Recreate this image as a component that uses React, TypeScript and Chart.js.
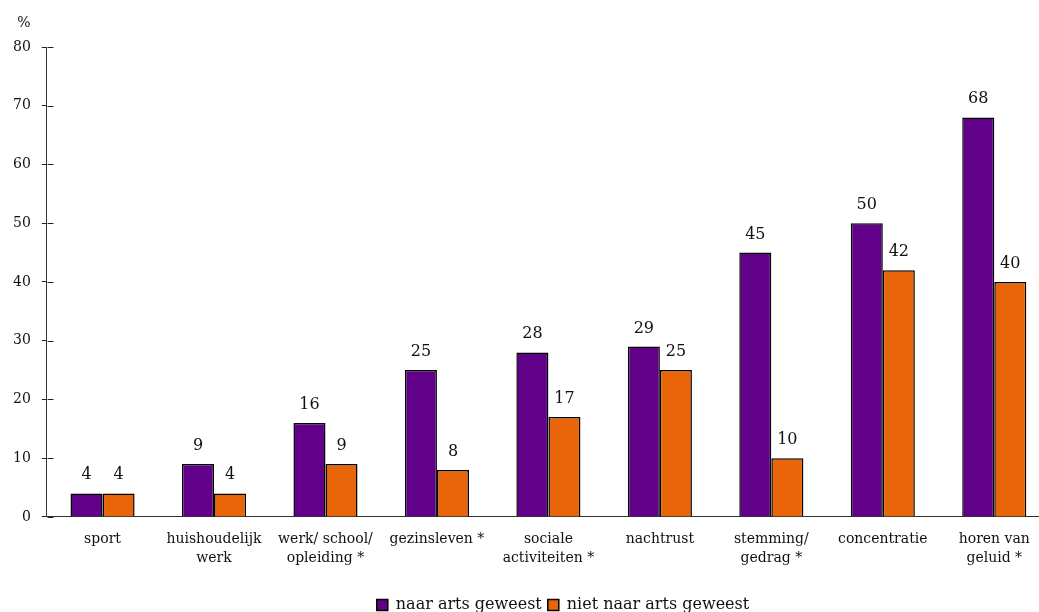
import React, { useEffect, useRef } from 'react';
import { Chart, registerables } from 'chart.js';

Chart.register(...registerables);

const categories: (string | string[])[] = [
  'sport',
  ['huishoudelijk', 'werk'],
  ['werk/ school/', 'opleiding *'],
  'gezinsleven *',
  ['sociale', 'activiteiten *'],
  'nachtrust',
  ['stemming/', 'gedrag *'],
  'concentratie',
  ['horen van', 'geluid *'],
];
const naarArts = [4, 9, 16, 25, 28, 29, 45, 50, 68];
const nietNaarArts = [4, 4, 9, 8, 17, 25, 10, 42, 40];
const seriesLabels = ['naar arts geweest', 'niet naar arts geweest'];
const yMin = 0;
const yMax = 80;
const yStep = 10;
const unitLabel = '%';

const FONT = "'DejaVu Serif', serif";

const valueLabelsPlugin = {
  id: 'valueLabels',
  afterDatasetsDraw(chart: any) {
    const ctx = chart.ctx;
    ctx.save();
    ctx.font = `16px ${FONT}`;
    ctx.fillStyle = '#111';
    ctx.textAlign = 'center';
    ctx.textBaseline = 'alphabetic';
    chart.data.datasets.forEach((ds: any, di: number) => {
      const meta = chart.getDatasetMeta(di);
      meta.data.forEach((el: any, i: number) => {
        ctx.fillText(String(ds.data[i]), el.x, el.y - 14);
      });
    });
    ctx.restore();
  },
};

const axisExtrasPlugin = {
  id: 'axisExtras',
  afterDraw(chart: any) {
    const ctx = chart.ctx;
    const y = chart.scales.y;
    ctx.save();
    ctx.strokeStyle = '#222';
    ctx.lineWidth = 1;
    const x0 = Math.round(y.right) + 0.5;
    y.ticks.forEach((_t: any, i: number) => {
      const py = Math.round(y.getPixelForTick(i)) + 0.5;
      ctx.beginPath();
      ctx.moveTo(x0, py);
      ctx.lineTo(x0 + 6, py);
      ctx.stroke();
    });
    ctx.font = `14px ${FONT}`;
    ctx.fillStyle = '#111';
    ctx.textAlign = 'center';
    ctx.textBaseline = 'middle';
    ctx.fillText(unitLabel, 24, chart.chartArea.top - 24);
    ctx.restore();
  },
};

export default function App() {
  const ref = useRef<HTMLCanvasElement | null>(null);
  useEffect(() => {
    if (!ref.current) return;
    const chart = new Chart(ref.current, {
      type: 'bar',
      data: {
        labels: categories,
        datasets: [
          {
            label: seriesLabels[0],
            data: naarArts,
            backgroundColor: '#610089',
            borderColor: '#000',
            borderWidth: 1.5,
            barPercentage: 1,
            categoryPercentage: 0.575,
          },
          {
            label: seriesLabels[1],
            data: nietNaarArts,
            backgroundColor: '#E8650A',
            borderColor: '#000',
            borderWidth: 1.5,
            barPercentage: 1,
            categoryPercentage: 0.575,
          },
        ],
      },
      options: {
        animation: false,
        responsive: false,
        layout: { padding: { left: 2, right: 64, top: 47, bottom: 0 } },
        plugins: {
          legend: {
            position: 'bottom',
            labels: {
              boxWidth: 11,
              boxHeight: 11,
              padding: 6,
              color: '#111',
              font: { family: FONT, size: 16 },
            },
          },
          tooltip: { enabled: false },
          title: { display: false },
        },
        scales: {
          x: {
            offset: true,
            grid: { display: false, drawTicks: false },
            border: { display: true, color: '#333', width: 1 },
            ticks: {
              color: '#111',
              padding: 13,
              maxRotation: 0,
              autoSkip: false,
              font: { family: FONT, size: 14, lineHeight: 1.36 },
            },
            afterFit: (s: any) => {
              s.height += 10;
            },
          },
          y: {
            min: yMin,
            max: yMax,
            grid: { display: true, drawOnChartArea: false, drawTicks: true, tickLength: 5, color: '#222' },
            border: { display: true, color: '#333', width: 1 },
            ticks: {
              stepSize: yStep,
              color: '#111',
              padding: 11,
              font: { family: FONT, size: 14 },
            },
          },
          yRight: {
            type: 'linear',
            position: 'right',
            display: true,
            grid: { display: false, drawTicks: false },
            border: { display: false },
            ticks: { display: false },
            afterFit: (s: any) => {
              s.width = 74;
            },
          },
        },
      },
      plugins: [valueLabelsPlugin, axisExtrasPlugin],
    });
    return () => chart.destroy();
  }, []);
  return (
    <div style={{ position: 'fixed', left: 0, top: 0, width: 1039, height: 612, overflow: 'hidden', background: '#fff' }}>
      <canvas ref={ref} width={1188} height={623} style={{ width: 1188, height: 623, display: 'block' }} />
    </div>
  );
}
